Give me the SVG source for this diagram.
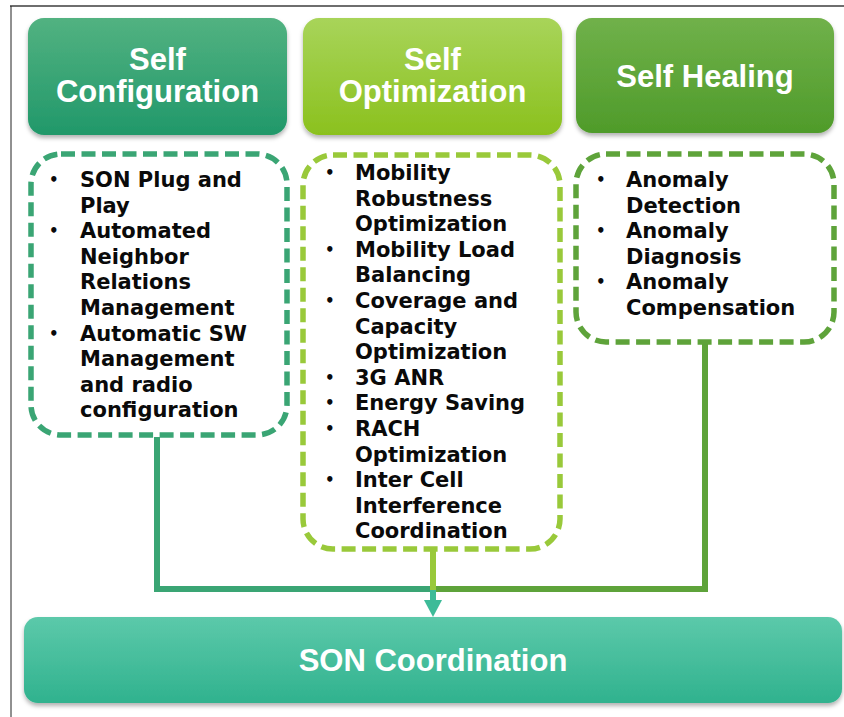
<svg xmlns="http://www.w3.org/2000/svg" width="844" height="717" viewBox="0 0 844 717">
  <defs>
    <linearGradient id="g1" x1="0" y1="0" x2="0" y2="1">
      <stop offset="0" stop-color="#52b281"/>
      <stop offset="1" stop-color="#21986a"/>
    </linearGradient>
    <linearGradient id="g2" x1="0" y1="0" x2="0" y2="1">
      <stop offset="0" stop-color="#a8d45a"/>
      <stop offset="1" stop-color="#8bc11e"/>
    </linearGradient>
    <linearGradient id="g3" x1="0" y1="0" x2="0" y2="1">
      <stop offset="0" stop-color="#70b14a"/>
      <stop offset="1" stop-color="#4f9b2a"/>
    </linearGradient>
    <linearGradient id="g4" x1="0" y1="0" x2="0" y2="1">
      <stop offset="0" stop-color="#5cc9aa"/>
      <stop offset="1" stop-color="#30b28e"/>
    </linearGradient>
    <filter id="sh" x="-5%" y="-10%" width="110%" height="130%">
      <feDropShadow dx="0" dy="3" stdDeviation="2" flood-color="#000" flood-opacity="0.3"/>
    </filter>
    <style>
      .hdr { font-family: "Liberation Sans", Arial, sans-serif; font-weight: bold; font-size: 31px; fill: #ffffff; text-anchor: middle; }
      .son { font-family: "Liberation Sans", Arial, sans-serif; font-weight: bold; font-size: 31px; fill: #ffffff; text-anchor: middle; }
      .lst { font-family: "DejaVu Sans", Verdana, sans-serif; font-weight: bold; font-size: 21px; fill: #0a0a0a; }
      .bul { font-size: 15px; }
      .dash { fill: #ffffff; stroke-width: 5.5; stroke-dasharray: 14 6.5; }
      .conn { fill: none; stroke-width: 6; }
    </style>
  </defs>

  <rect x="0" y="0" width="844" height="717" fill="#ffffff"/>
  <line x1="10" y1="6" x2="844" y2="6" stroke="#6e6e6e" stroke-width="2"/>
  <line x1="11" y1="6" x2="11" y2="717" stroke="#222222" stroke-width="1"/>

  <g id="connectors">
    <path class="conn" d="M157,437 V589 H433" stroke="#3aa574"/>
    <path class="conn" d="M433,589 H705 V344" stroke="#5ea33a"/>
    <path class="conn" d="M433,551 V592" stroke="#99c93a"/>
    <path d="M433,590 V601" stroke="#3dbb98" stroke-width="6" fill="none"/>
    <path d="M424,600 L442,600 L433,617 Z" fill="#3dbb98"/>
  </g>

  <g id="self-configuration">
    <rect x="28" y="18" width="259" height="117" rx="16" fill="url(#g1)" filter="url(#sh)"/>
    <text class="hdr" x="157.5" y="70">Self</text>
    <text class="hdr" x="157.5" y="102">Configuration</text>
  </g>
  <g id="self-optimization">
    <rect x="303" y="18" width="259" height="117" rx="16" fill="url(#g2)" filter="url(#sh)"/>
    <text class="hdr" x="432.5" y="70">Self</text>
    <text class="hdr" x="432.5" y="102">Optimization</text>
  </g>
  <g id="self-healing">
    <rect x="576" y="18" width="258" height="115" rx="16" fill="url(#g3)" filter="url(#sh)"/>
    <text class="hdr" x="705" y="87">Self Healing</text>
  </g>

  <g id="config-list">
    <rect class="dash" x="31" y="154" width="256" height="281" rx="30" stroke="#3aa574"/>
    <text class="lst">
      <tspan class="bul" x="49" y="185">•</tspan><tspan x="80" y="187">SON Plug and</tspan>
      <tspan x="80" y="212.6">Play</tspan>
      <tspan class="bul" x="49" y="236.2">•</tspan><tspan x="80" y="238.2">Automated</tspan>
      <tspan x="80" y="263.8">Neighbor</tspan>
      <tspan x="80" y="289.4">Relations</tspan>
      <tspan x="80" y="315">Management</tspan>
      <tspan class="bul" x="49" y="338.6">•</tspan><tspan x="80" y="340.6">Automatic SW</tspan>
      <tspan x="80" y="366.2">Management</tspan>
      <tspan x="80" y="391.8">and radio</tspan>
      <tspan x="80" y="417.4">configuration</tspan>
    </text>
  </g>

  <g id="optimization-list">
    <rect class="dash" x="303" y="155" width="257" height="394" rx="30" stroke="#99c93a"/>
    <text class="lst">
      <tspan class="bul" x="325" y="178">•</tspan><tspan x="355" y="180">Mobility</tspan>
      <tspan x="355" y="205.6">Robustness</tspan>
      <tspan x="355" y="231.2">Optimization</tspan>
      <tspan class="bul" x="325" y="254.8">•</tspan><tspan x="355" y="256.8">Mobility Load</tspan>
      <tspan x="355" y="282.4">Balancing</tspan>
      <tspan class="bul" x="325" y="306">•</tspan><tspan x="355" y="308">Coverage and</tspan>
      <tspan x="355" y="333.6">Capacity</tspan>
      <tspan x="355" y="359.2">Optimization</tspan>
      <tspan class="bul" x="325" y="382.8">•</tspan><tspan x="355" y="384.8">3G ANR</tspan>
      <tspan class="bul" x="325" y="408.4">•</tspan><tspan x="355" y="410.4">Energy Saving</tspan>
      <tspan class="bul" x="325" y="434">•</tspan><tspan x="355" y="436">RACH</tspan>
      <tspan x="355" y="461.6">Optimization</tspan>
      <tspan class="bul" x="325" y="485.2">•</tspan><tspan x="355" y="487.2">Inter Cell</tspan>
      <tspan x="355" y="512.8">Interference</tspan>
      <tspan x="355" y="538.4">Coordination</tspan>
    </text>
  </g>

  <g id="healing-list">
    <rect class="dash" x="576" y="154" width="258" height="188" rx="30" stroke="#5ea33a"/>
    <text class="lst">
      <tspan class="bul" x="596" y="185">•</tspan><tspan x="626" y="187">Anomaly</tspan>
      <tspan x="626" y="212.6">Detection</tspan>
      <tspan class="bul" x="596" y="236.2">•</tspan><tspan x="626" y="238.2">Anomaly</tspan>
      <tspan x="626" y="263.8">Diagnosis</tspan>
      <tspan class="bul" x="596" y="287.4">•</tspan><tspan x="626" y="289.4">Anomaly</tspan>
      <tspan x="626" y="315">Compensation</tspan>
    </text>
  </g>

  <g id="son-coordination">
    <rect x="24" y="617" width="818" height="86" rx="14" fill="url(#g4)" filter="url(#sh)"/>
    <text class="son" x="433" y="671">SON Coordination</text>
  </g>
</svg>
